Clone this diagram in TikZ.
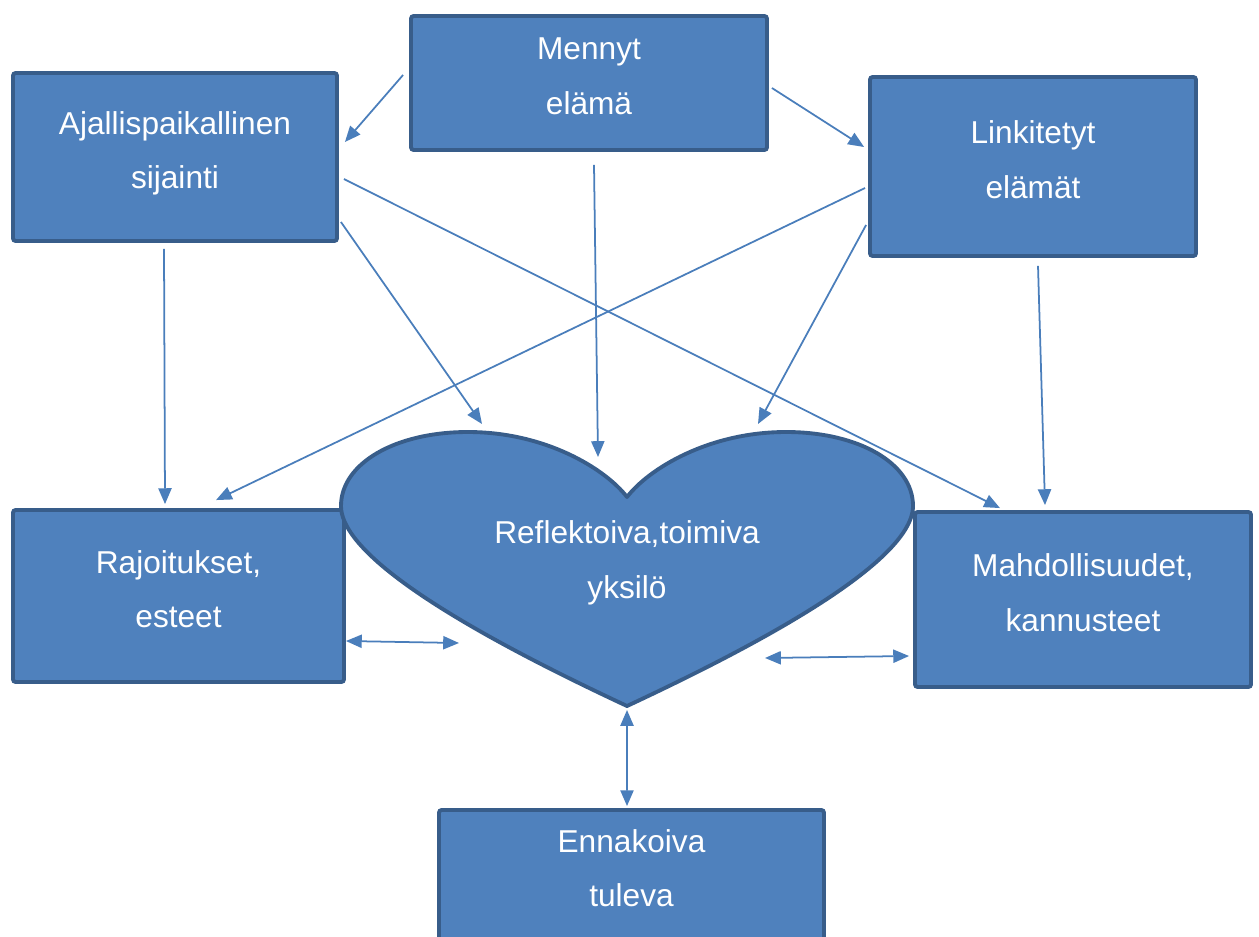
\documentclass[tikz,border=0pt]{standalone}
\usepackage{fontspec}
\setmainfont{Liberation Sans}
\usetikzlibrary{arrows.meta}

\definecolor{boxfill}{HTML}{4F81BD}
\definecolor{boxline}{HTML}{385D8A}
\definecolor{arrowline}{HTML}{4A7EBB}

\tikzset{
  box/.style={draw=boxline,fill=boxfill,line width=2.2pt,rounded corners=1.5pt,
    text=white,align=center,inner sep=0pt,text depth=8pt,font=\fontsize{18}{31}\selectfont},
  heartshape/.style={draw=boxline,fill=boxfill,line width=2.2pt,line join=round},
  link/.style={every edge/.style={draw,color=arrowline,line width=1pt,#1}},
  >={Triangle[length=9pt,width=7.5pt]},
}

\begin{document}
\begin{tikzpicture}

  \useasboundingbox (0,0) rectangle (25.18,18.72);

  % boxes
  \node [box,minimum width=7.12cm,minimum height=2.68cm] (mennyt)  at (11.78,17.06) {Mennyt\\elämä};
  \node [box,minimum width=6.48cm,minimum height=3.36cm] (ajallis) at (3.50,15.58)  {Ajallispaikallinen\\sijainti};
  \node [box,minimum width=6.52cm,minimum height=3.58cm] (linkit)  at (20.66,15.39) {Linkitetyt\\elämät};
  \node [box,minimum width=6.62cm,minimum height=3.44cm] (rajoit)  at (3.57,6.80)   {Rajoitukset,\\esteet};
  \node [box,minimum width=6.72cm,minimum height=3.50cm] (mahdol)  at (21.66,6.73)  {Mahdollisuudet,\\kannusteet};
  \node [box,minimum width=7.70cm,minimum height=2.60cm] (ennak)   at (12.63,1.22)  {Ennakoiva\\tuleva};

  % heart
  \coordinate (hdip) at (12.54,8.78);
  \coordinate (hbot) at (12.54,4.60);
  \path [heartshape] (hdip)
    .. controls (12.10,9.35) and (10.90,10.08) .. (9.36,10.08)
    .. controls (7.90,10.08) and (6.82,9.45) .. (6.82,8.60)
    .. controls (6.82,7.40) and (10.40,5.60) .. (hbot)
    .. controls (14.68,5.60) and (18.26,7.40) .. (18.26,8.60)
    .. controls (18.26,9.45) and (17.18,10.08) .. (15.72,10.08)
    .. controls (14.18,10.08) and (12.98,9.35) .. (hdip) -- cycle;
  \node [text=white,align=center,font=\fontsize{18}{31}\selectfont] (heart) at (12.54,7.46) {Reflektoiva,toimiva\\yksilö};

  \path [link=->]
    ([shift={(-0.12,0.16)}]mennyt.west)    edge ([shift={(0.12,0.30)}]ajallis.east)
    ([shift={(0.06,-0.10)}]mennyt.east)    edge ([shift={(-0.08,0.39)}]linkit.west)
    ([shift={(0.10,-0.26)}]mennyt.south)   edge ([shift={(-0.58,0.80)}]hdip)
    ([shift={(-0.22,-0.12)}]ajallis.south) edge ([shift={(-0.27,0.08)}]rajoit.north)
    ([shift={(0.04,-1.30)}]ajallis.east)   edge ([shift={(-2.90,1.46)}]hdip)
    ([shift={(0.10,-0.44)}]ajallis.east)   edge ([shift={(-1.66,0.04)}]mahdol.north)
    ([shift={(-0.06,-0.43)}]linkit.west)   edge ([shift={(0.75,0.16)}]rajoit.north)
    ([shift={(-0.04,-1.17)}]linkit.west)   edge ([shift={(2.62,1.46)}]hdip)
    ([shift={(0.10,-0.16)}]linkit.south)   edge ([shift={(-0.76,0.10)}]mahdol.north);

  \path [link=<->]
    ([shift={(0,-0.90)}]rajoit.east) edge ([shift={(-3.36,1.26)}]hbot)
    ([shift={(2.76,0.96)}]hbot)      edge ([shift={(-0.08,-1.13)}]mahdol.west)
    ([shift={(0,-0.08)}]hbot)        edge ([shift={(-0.09,0.04)}]ennak.north);

\end{tikzpicture}
\end{document}
